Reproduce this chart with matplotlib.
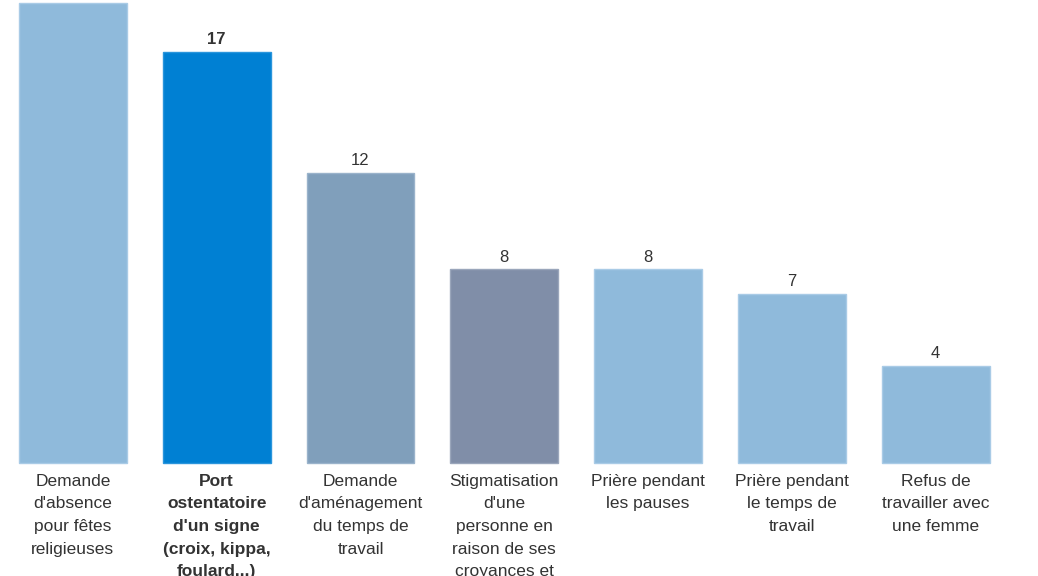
import numpy as np
from matplotlib import pyplot as plt

plt.rcParams['font.family'] = ['Liberation Sans', 'DejaVu Sans']

categories = [
    "Demande\nd'absence\npour fêtes\nreligieuses",
    "Port\nostentatoire\nd'un signe\n(croix, kippa,\nfoulard...)",
    "Demande\nd'aménagement\ndu temps de\ntravail",
    "Stigmatisation\nd'une\npersonne en\nraison de ses\ncroyances et\npratiques",
    "Prière pendant\nles pauses",
    "Prière pendant\nle temps de\ntravail",
    "Refus de\ntravailler avec\nune femme",
]
values = [19, 17, 12, 8, 8, 7, 4]
highlight = 1

colors = ['#8fbadb', '#0080d3', '#809fbb', '#808ea8', '#8fbadb', '#8fbadb', '#8fbadb']
edges = ['#a9cbe6', '#2a95dc', '#9ab3cb', '#9aa6bb', '#a9cbe6', '#a9cbe6', '#a9cbe6']

fig = plt.figure(figsize=(10.38, 5.76), dpi=100)
ax = fig.add_axes([0, 0, 1, 1])

x = np.arange(len(values))
bars = ax.bar(x, values, width=0.75, color=colors, edgecolor=edges, linewidth=1)

for i, (xi, v) in enumerate(zip(x, values)):
    weight = 'bold' if i == highlight else 'normal'
    ax.text(xi, v + 0.2, str(v), ha='center', va='bottom', fontsize=12,
            color='#333333', fontweight=weight)
    ax.text(xi, -0.45, categories[i], ha='center', va='top', fontsize=12.5,
            color='#333333', fontweight=weight, linespacing=1.63)

px = 143.8
ax.set_xlim(-72.9 / px, -72.9 / px + 1038 / px)
ax.set_ylim(-113 / 24.2, 463 / 24.2)
ax.axis('off')

fig.savefig('out.png', dpi=100)
